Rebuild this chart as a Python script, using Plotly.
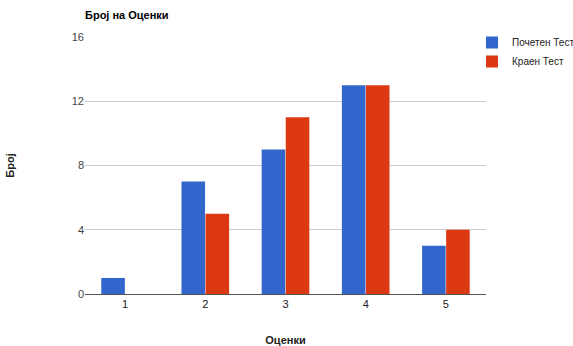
import plotly.graph_objects as go

categories = ["1", "2", "3", "4", "5"]
pocheten = [1, 7, 9, 13, 3]
kraen = [0, 5, 11, 13, 4]
y_ticks = [0, 4, 8, 12, 16]

fig = go.Figure()
fig.add_trace(go.Bar(x=categories, y=pocheten, name="Почетен Тест",
                     marker=dict(color="#3366cc", line=dict(width=0))))
fig.add_trace(go.Bar(x=categories, y=kraen, name="Краен Тест",
                     marker=dict(color="#dc3912", line=dict(width=0))))

fig.update_layout(
    width=573, height=346,
    margin=dict(l=85, r=87, t=37, b=52, autoexpand=False),
    paper_bgcolor="white", plot_bgcolor="white",
    font=dict(family="Liberation Sans, Arial", size=11, color="#444"),
    title=dict(text="<b>Број на Оценки</b>", x=85/573, xanchor="left",
               y=1-15/346, yanchor="middle",
               font=dict(size=11, color="#000")),
    barmode="group", bargap=0.4, bargroupgap=0.02,
    showlegend=True,
    legend=dict(xref="container", yref="container",
                x=472/573, xanchor="left", y=1-28/346, yanchor="top",
                font=dict(size=10, color="#222"), itemwidth=30,
                tracegroupgap=0, bgcolor="rgba(0,0,0,0)"),
    xaxis=dict(showgrid=False, showline=True, linecolor="#555", linewidth=1,
               ticks="", tickfont=dict(size=11, color="#222"), automargin=False,
               title=dict(text="<b>Оценки</b>", font=dict(size=11, color="#222"),
                          standoff=29)),
    yaxis=dict(range=[0, 16], tickvals=y_ticks, showgrid=True, gridcolor="#cccccc",
               zeroline=False, showline=False, ticks="", automargin=False,
               tickfont=dict(size=11, color="#444"),
               title=dict(text="<b>Број</b>", font=dict(size=11, color="#222"),
                          standoff=54)),
)

fig.write_html("out.html", config={"displayModeBar": False},
               post_script="document.body.style.margin='0px';")
